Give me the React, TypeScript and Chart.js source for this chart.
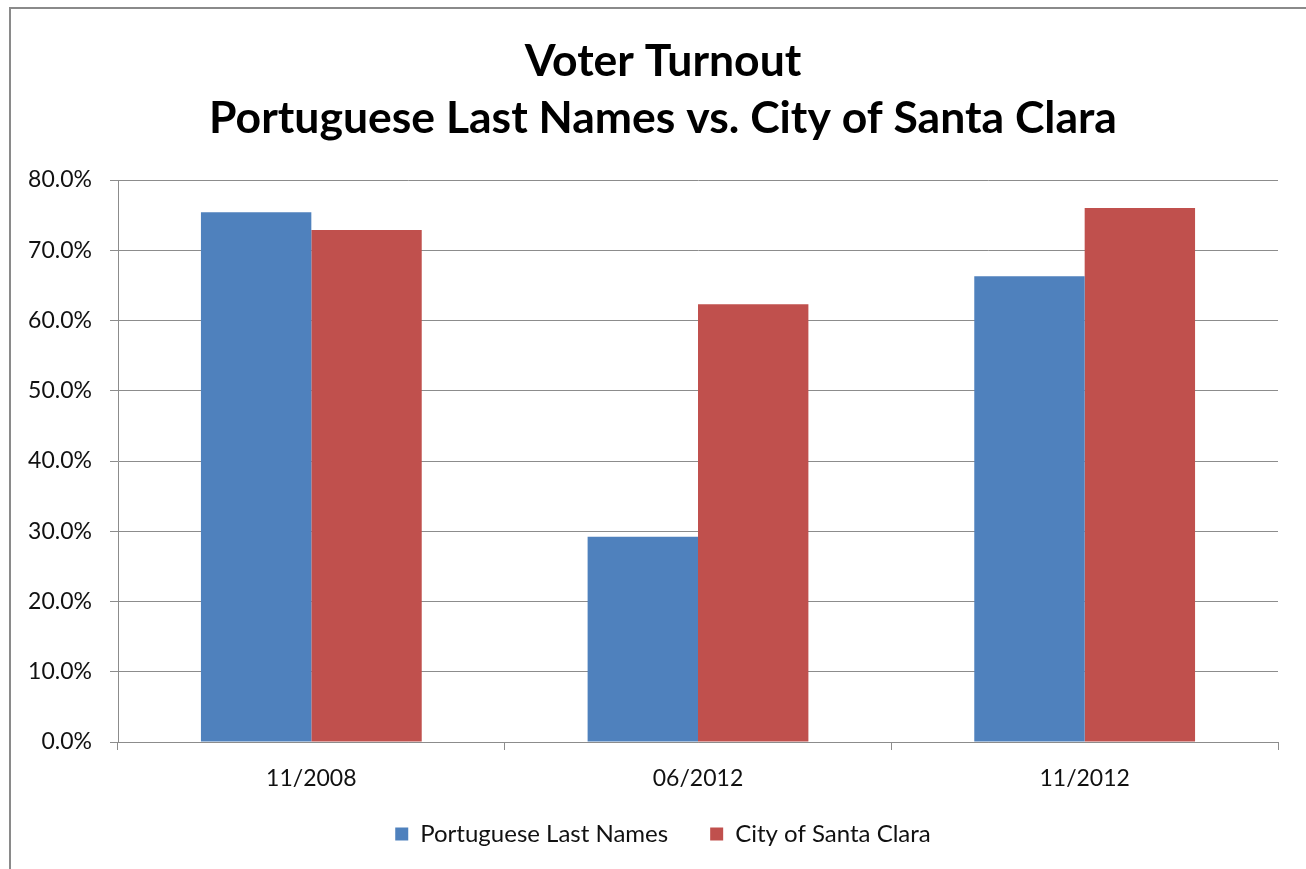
import React, { useEffect, useRef } from "react";
import { Chart, registerables } from "chart.js";

Chart.register(...registerables);

const categories = ["11/2008", "06/2012", "11/2012"];
const portugueseLastNames = [75.4, 29.2, 66.3];
const cityOfSantaClara = [72.9, 62.3, 76.0];
const seriesNames = ["Portuguese Last Names", "City of Santa Clara"];
const titleLines = ["Voter Turnout", "Portuguese Last Names vs. City of Santa Clara"];
const yMin = 0;
const yMax = 80;
const yStep = 10;

const FONT = "Lato, 'Open Sans', sans-serif";
const GRID = "#8c8c8c";

const noLabelClip = {
  id: "noLabelClip",
  beforeDraw(chart: any) {
    Object.values(chart.scales).forEach((s: any) => {
      s._computeLabelArea = () => undefined;
    });
  },
};

export default function App() {
  const ref = useRef<HTMLCanvasElement | null>(null);

  useEffect(() => {
    if (!ref.current) return;
    const chart = new Chart(ref.current, {
      type: "bar",
      data: {
        labels: categories,
        datasets: [
          {
            label: seriesNames[0],
            data: portugueseLastNames,
            backgroundColor: "#4F81BD",
            borderWidth: 0,
            categoryPercentage: 0.571,
            barPercentage: 1.0,
          },
          {
            label: seriesNames[1],
            data: cityOfSantaClara,
            backgroundColor: "#C0504D",
            borderWidth: 0,
            categoryPercentage: 0.571,
            barPercentage: 1.0,
          },
        ],
      },
      plugins: [noLabelClip],
      options: {
        animation: false,
        responsive: false,
        maintainAspectRatio: false,
        layout: { padding: { top: 0, left: 48, right: 28, bottom: 44 } },
        plugins: {
          title: {
            display: true,
            text: titleLines,
            color: "#000",
            font: { family: FONT, size: 44.5, weight: "bold", lineHeight: 57 / 44.5 },
            padding: { top: 33, bottom: 33 },
          },
          legend: {
            position: "bottom",
            labels: {
              boxWidth: 13,
              boxHeight: 13,
              padding: 42,
              color: "#111",
              font: { family: FONT, size: 24 },
            },
          },
          tooltip: { enabled: false },
        },
        scales: {
          x: {
            afterFit: (s: any) => {
              s.height = 38;
            },
            grid: {
              display: true,
              drawOnChartArea: false,
              drawTicks: true,
              tickLength: 8,
              color: GRID,
              offset: true,
            },
            border: { display: true, color: GRID },
            ticks: {
              color: "#111",
              padding: 15,
              font: { family: FONT, size: 23 },
            },
          },
          y: {
            min: yMin,
            max: yMax,
            afterFit: (s: any) => {
              s.width = 70;
            },
            grid: {
              color: GRID,
              drawTicks: true,
              tickLength: 8,
            },
            border: { display: true, color: GRID },
            ticks: {
              stepSize: yStep,
              color: "#111",
              padding: 18,
              font: { family: FONT, size: 23 },
              callback: (v: any) => Number(v).toFixed(1) + "%",
            },
          },
        },
      },
    });
    return () => chart.destroy();
  }, []);

  return (
    <div
      style={{
        position: "fixed",
        left: 0,
        top: 0,
        width: 1306,
        height: 869,
        overflow: "hidden",
        background: "#fff",
      }}
    >
      <div
        style={{
          position: "absolute",
          left: 9,
          top: 7,
          width: 1300,
          height: 900,
          border: "2px solid #8a8a8a",
          boxSizing: "border-box",
        }}
      />
      <canvas
        ref={ref}
        width={1306}
        height={900}
        style={{ position: "absolute", left: 0, top: 0, width: 1306, height: 900 }}
      />
    </div>
  );
}
